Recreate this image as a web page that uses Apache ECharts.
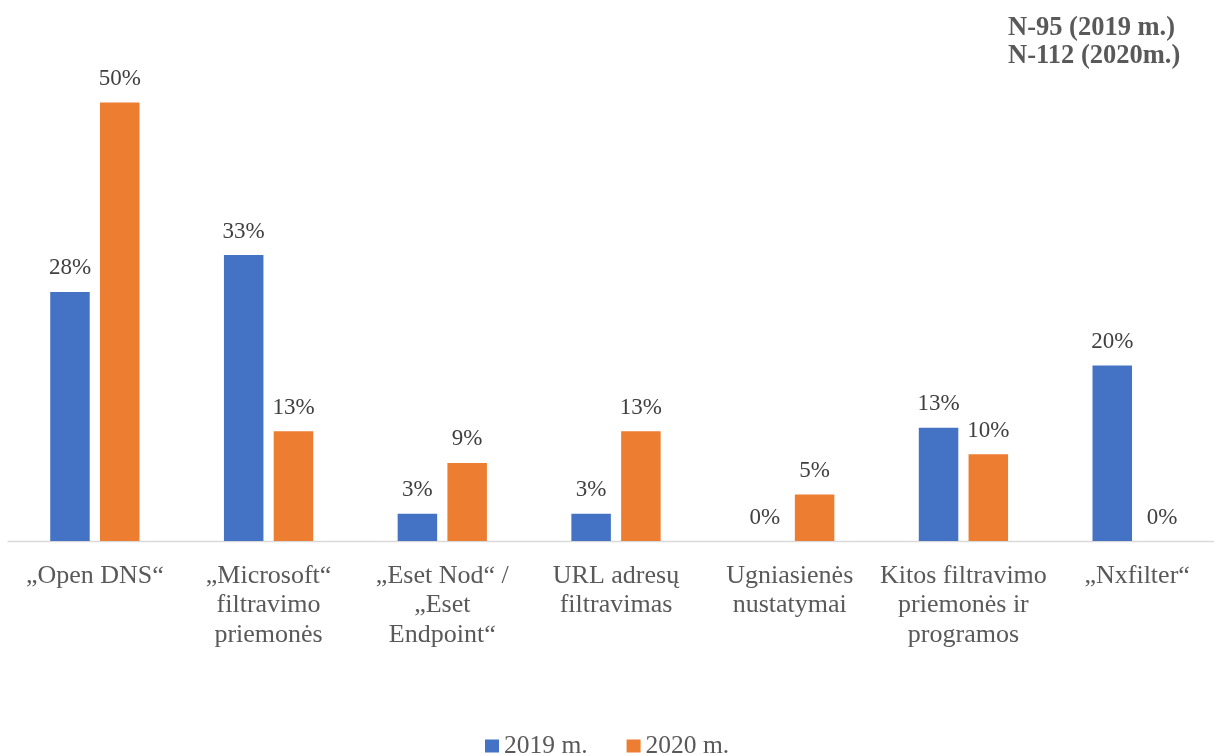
<!DOCTYPE html>
<html>
<head>
<meta charset="utf-8">
<script src="https://cdn.jsdelivr.net/npm/echarts@6/dist/echarts.min.js"></script>
<style>
html,body{margin:0;padding:0;background:#fff;overflow:hidden;width:1214px;height:755px;}
#chart{width:1226px;height:755px;}
</style>
</head>
<body>
<div id="chart"></div>
<script>
const categories = [
  '„Open DNS“',
  '„Microsoft“\nfiltravimo\npriemonės',
  '„Eset Nod“ /\n„Eset\nEndpoint“',
  'URL adresų\nfiltravimas',
  'Ugniasienės\nnustatymai',
  'Kitos filtravimo\npriemonės ir\nprogramos',
  '„Nxfilter“'
];
const seriesNames = ['2019 m.', '2020 m.'];
const values2019 = [28.4, 32.6, 3.1, 3.1, 0, 12.9, 20];
const values2020 = [50, 12.5, 8.9, 12.5, 5.3, 9.9, 0];
const noteText = 'N-95 (2019 m.)\nN-112 (2020m.)';

const FONT = '"Liberation Serif","Times New Roman",serif';
const chart = echarts.init(document.getElementById('chart'), null, {renderer:'canvas'});

const labelCfg = {
  show: true,
  position: 'top',
  distance: 12,
  fontFamily: FONT,
  fontSize: 23,
  lineHeight: 23,
  color: '#404040',
  formatter: p => Math.round(p.value) + '%'
};

chart.setOption({
  animation: false,
  backgroundColor: '#ffffff',
  title: {
    text: noteText,
    left: 1008,
    top: 14,
    padding: 0,
    textStyle: {fontFamily: FONT, fontSize: 26.5, lineHeight: 28, fontWeight: 'bold', color: '#595959'}
  },
  legend: {
    data: seriesNames,
    left: 480,
    top: 728,
    itemWidth: 14,
    itemHeight: 13,
    itemGap: 39,
    icon: 'rect',
    textStyle: {fontFamily: FONT, fontSize: 25.5, lineHeight: 26, color: '#595959'}
  },
  grid: {left: 8, right: 2, top: 58.6, height: 482.4, containLabel: false},
  xAxis: {
    type: 'category',
    data: categories,
    axisLine: {show: true, lineStyle: {color: '#d9d9d9', width: 1.3}},
    axisTick: {show: false},
    axisLabel: {interval: 0, margin: 20, fontFamily: FONT, fontSize: 26, lineHeight: 29.5, color: '#595959'}
  },
  yAxis: {
    type: 'value', min: 0, max: 55,
    show: false,
    splitLine: {show: false}
  },
  series: [
    {name: seriesNames[0], type: 'bar', data: values2019, barWidth: 39.5, barGap: '26%',
     itemStyle: {color: '#4472c4'}, label: labelCfg},
    {name: seriesNames[1], type: 'bar', data: values2020, barWidth: 39.5, barGap: '26%',
     itemStyle: {color: '#ed7d31'}, label: labelCfg}
  ]
});
</script>
</body>
</html>
